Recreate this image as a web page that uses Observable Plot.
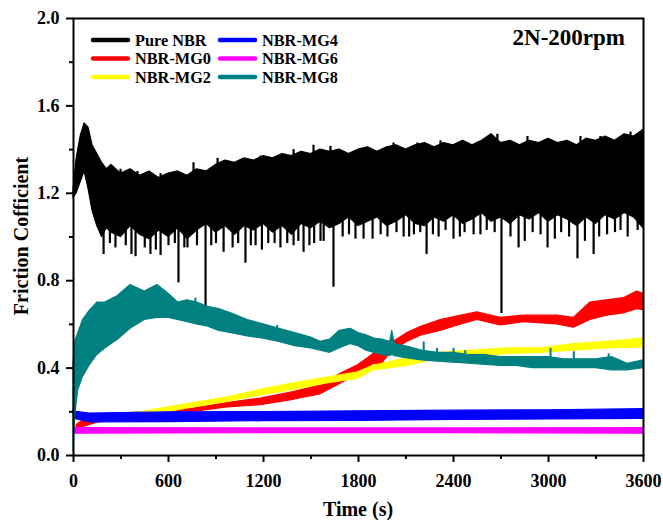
<!DOCTYPE html>
<html><head><meta charset="utf-8">
<script src="https://cdn.jsdelivr.net/npm/d3@7"></script>
<script src="https://cdn.jsdelivr.net/npm/@observablehq/plot@0.6"></script>
<style>
body{margin:0;background:#fff;}
#wrap{position:relative;width:663px;height:520px;}
#wrap svg{position:absolute;left:0;top:0;}
</style></head><body><div id="wrap"></div>
<script>
const seriesNames = ["Pure NBR","NBR-MG0","NBR-MG2","NBR-MG4","NBR-MG6","NBR-MG8"];
const seriesColors = ["#000000","#ff0000","#ffff00","#0000ff","#ff00ff","#008080"];
const xTicks = [0,600,1200,1800,2400,3000,3600];
const xMinor = [300,900,1500,2100,2700,3300];
const yTicks = [0,0.4,0.8,1.2,1.6,2.0];
const yMinor = [0.2,0.6,1.0,1.4,1.8];
const chartTitle = "2N-200rpm";
const xTitle = "Time (s)";
const yTitle = "Friction Cofficient";

// Pure NBR: upper / lower envelope of the oscillating trace
const pureT = [0,20,45,70,95,120,150,180,210,240,300,360,420,480,540,600,660,720,780,840,900,960,1020,1080,1140,1200,1260,1320,1380,1440,1500,1560,1620,1680,1740,1800,1860,1920,1980,2040,2100,2160,2220,2280,2340,2400,2460,2520,2580,2640,2700,2760,2820,2880,2940,3000,3060,3120,3180,3240,3300,3360,3420,3480,3540,3600];
const pureHi = [1.22,1.36,1.46,1.52,1.50,1.42,1.38,1.34,1.31,1.33,1.29,1.31,1.28,1.30,1.27,1.29,1.30,1.28,1.31,1.30,1.33,1.35,1.34,1.36,1.35,1.37,1.36,1.38,1.37,1.39,1.38,1.40,1.39,1.40,1.38,1.40,1.41,1.39,1.41,1.42,1.40,1.42,1.43,1.41,1.43,1.42,1.44,1.42,1.44,1.47,1.43,1.44,1.42,1.44,1.43,1.45,1.43,1.44,1.42,1.45,1.44,1.46,1.44,1.47,1.46,1.49];
const pureLo = [1.18,1.20,1.25,1.30,1.22,1.12,1.05,1.00,1.04,1.02,1.00,1.05,1.01,0.99,1.03,1.00,1.04,0.99,1.03,1.06,1.02,1.05,1.01,1.05,1.03,1.06,1.02,1.05,1.01,1.06,1.04,1.07,1.04,1.06,1.09,1.05,1.07,1.09,1.05,1.07,1.10,1.06,1.05,1.09,1.07,1.10,1.06,1.08,1.11,1.07,1.09,1.06,1.10,1.08,1.11,1.07,1.10,1.08,1.05,1.09,1.06,1.10,1.08,1.11,1.09,1.04];
// downward spikes of Pure NBR
const spikeT = [190,230,265,330,366,392,450,486,520,550,600,640,663,700,720,780,834,870,900,948,1005,1040,1086,1120,1150,1190,1230,1270,1307,1350,1390,1420,1453,1490,1520,1560,1580,1642,1700,1740,1781,1832,1889,1940,1983,2040,2085,2120,2150,2190,2230,2270,2306,2350,2400,2440,2470,2527,2570,2610,2660,2703,2760,2811,2850,2900,2950,2994,3040,3080,3130,3183,3230,3285,3320,3370,3420,3455,3500,3563];
const spikeLow = [0.92,0.97,0.95,0.96,0.92,0.91,0.95,0.92,0.94,0.915,0.96,0.97,0.79,0.95,0.95,0.96,0.68,0.96,0.97,0.93,0.95,0.97,0.88,0.96,0.96,0.94,0.97,0.97,0.95,0.97,0.96,0.98,0.93,0.96,0.97,0.98,0.98,0.77,1.00,1.01,0.99,0.99,0.99,1.01,1.00,1.02,1.00,1.00,1.01,1.02,0.92,1.01,1.00,1.03,0.99,1.00,1.02,1.01,1.01,1.03,1.02,0.65,1.00,0.95,0.98,1.02,1.01,0.95,0.99,1.02,1.00,0.90,0.98,0.92,1.00,1.01,1.02,1.03,1.00,1.03];
// upward spikes of Pure NBR
const peakT = [297,404,550,758,910,1181,1390,1516,1623,2021,2172,2318,2677,2867,3202,3328,3518,3594];
const peakHigh = [1.31,1.30,1.29,1.34,1.36,1.37,1.40,1.42,1.415,1.43,1.43,1.44,1.47,1.46,1.46,1.46,1.48,1.49];

// NBR-MG0
const mg0T  = [20,60,150,300,450,600,760,970,1180,1390,1560,1690,1790,1850,1895,1940,2000,2107,2200,2318,2450,2550,2697,2842,3055,3160,3265,3370,3475,3560,3600];
const mg0Lo = [0.10,0.13,0.15,0.17,0.18,0.19,0.20,0.22,0.23,0.255,0.28,0.33,0.37,0.39,0.42,0.41,0.47,0.52,0.55,0.57,0.60,0.62,0.595,0.61,0.60,0.585,0.62,0.64,0.65,0.67,0.665];
const mg0Hi = [0.14,0.16,0.175,0.19,0.20,0.21,0.215,0.24,0.26,0.29,0.32,0.375,0.41,0.44,0.465,0.47,0.51,0.56,0.59,0.62,0.64,0.655,0.63,0.64,0.64,0.63,0.70,0.71,0.72,0.75,0.74];

// NBR-MG2
const mg2T  = [0,100,300,442,600,758,972,1181,1390,1602,1793,1895,2107,2318,2526,2740,2950,3160,3370,3600];
const mg2Lo = [0.16,0.165,0.175,0.185,0.20,0.22,0.245,0.275,0.30,0.33,0.35,0.39,0.41,0.445,0.45,0.465,0.47,0.48,0.49,0.495];
const mg2Hi = [0.18,0.18,0.19,0.20,0.22,0.24,0.265,0.30,0.33,0.357,0.38,0.41,0.445,0.47,0.48,0.49,0.49,0.51,0.52,0.535];

// NBR-MG4
const mg4T  = [0,20,100,600,1200,1800,2400,3000,3600];
const mg4Lo = [0.18,0.165,0.152,0.153,0.157,0.158,0.163,0.165,0.168];
const mg4Hi = [0.21,0.20,0.192,0.197,0.199,0.202,0.205,0.207,0.212];

// NBR-MG6
const mg6T  = [8,1200,2400,3600];
const mg6Lo = [0.10,0.102,0.102,0.10];
const mg6Hi = [0.125,0.124,0.124,0.125];

// NBR-MG8
const mg8T  = [0,10,30,60,100,150,200,280,360,450,530,600,660,720,780,850,920,1000,1100,1200,1300,1400,1500,1560,1620,1680,1750,1800,1850,1900,1950,2000,2013,2030,2100,2200,2300,2400,2500,2600,2700,2800,2900,3000,3100,3200,3300,3400,3500,3600];
const mg8Hi = [0.42,0.52,0.56,0.62,0.66,0.70,0.70,0.73,0.78,0.75,0.78,0.74,0.70,0.71,0.70,0.68,0.67,0.65,0.62,0.60,0.58,0.56,0.54,0.52,0.53,0.57,0.58,0.56,0.55,0.535,0.53,0.52,0.57,0.51,0.50,0.48,0.47,0.47,0.46,0.46,0.45,0.45,0.45,0.45,0.44,0.44,0.44,0.45,0.42,0.435];
const mg8Lo = [0.02,0.18,0.30,0.36,0.41,0.46,0.49,0.53,0.58,0.62,0.63,0.63,0.62,0.61,0.60,0.59,0.57,0.56,0.545,0.535,0.52,0.50,0.49,0.48,0.47,0.49,0.51,0.50,0.48,0.47,0.46,0.455,0.46,0.455,0.445,0.435,0.43,0.425,0.42,0.415,0.41,0.41,0.40,0.40,0.40,0.40,0.40,0.39,0.39,0.40];
// upward spikes of NBR-MG8
const mg8PeakT = [770,956,1286,2212,2296,2400,2474,3013,3160,3380];
const mg8PeakHigh = [0.72,0.655,0.595,0.52,0.49,0.49,0.48,0.49,0.475,0.465];

const band = (T, lo, hi) => T.map((t, i) => ({t, lo: lo[i], hi: hi[i]}));
const at = (T, V, t) => {
  const i = d3.bisectLeft(T, t);
  if (i <= 0) return V[0];
  if (i >= T.length) return V[V.length - 1];
  const a = T[i-1], b = T[i];
  return V[i-1] + (V[i]-V[i-1]) * (t-a)/(b-a);
};
const series = [
  {data: band(pureT, pureLo, pureHi), color: seriesColors[0]},
  {data: band(mg0T, mg0Lo, mg0Hi), color: seriesColors[1]},
  {data: band(mg2T, mg2Lo, mg2Hi), color: seriesColors[2]},
  {data: band(mg4T, mg4Lo, mg4Hi), color: seriesColors[3]},
  {data: band(mg6T, mg6Lo, mg6Hi), color: seriesColors[4]},
  {data: band(mg8T, mg8Lo, mg8Hi), color: seriesColors[5]}
];
const pureSpikes = spikeT.map((t, i) => ({t, a: spikeLow[i], b: at(pureT, pureLo, t) + 0.03}))
  .concat(peakT.map((t, i) => ({t, a: at(pureT, pureHi, t) - 0.03, b: peakHigh[i]})));
const mg8Spikes = mg8PeakT.map((t, i) => ({t, a: at(mg8T, mg8Hi, t) - 0.02, b: mg8PeakHigh[i]}));

const marks = [];
series.forEach((s, k) => {
  marks.push(Plot.areaY(s.data, {x: "t", y1: "lo", y2: "hi", fill: s.color, stroke: s.color, strokeWidth: 1.2}));
  if (k === 0) marks.push(Plot.ruleX(pureSpikes, {x: "t", y1: "a", y2: "b", stroke: s.color, strokeWidth: 2.2}));
  if (k === 5) marks.push(Plot.ruleX(mg8Spikes, {x: "t", y1: "a", y2: "b", stroke: s.color, strokeWidth: 2}));
});
marks.push(
  Plot.axisX({ticks: xTicks, tickSize: 7, tickPadding: 12, tickFormat: d => String(d), strokeWidth: 2}),
  Plot.axisX({ticks: xMinor, tickSize: 4, tickFormat: () => "", strokeWidth: 2}),
  Plot.axisY({ticks: yTicks, tickSize: 7, tickPadding: 7, tickFormat: d3.format(".1f"), strokeWidth: 2}),
  Plot.axisY({ticks: yMinor, tickSize: 4, tickFormat: () => "", strokeWidth: 2}),
  Plot.frame({stroke: "#000", strokeWidth: 2})
);

const chart = Plot.plot({
  width: 663, height: 520,
  marginLeft: 73, marginRight: 20, marginTop: 18, marginBottom: 65,
  x: {domain: [0, 3600], label: null},
  y: {domain: [0, 2.0], label: null},
  style: {fontFamily: "'Liberation Serif', 'Times New Roman', serif", fontSize: "18px", fontWeight: "bold", color: "#000", background: "transparent"},
  marks
});
const wrap = document.getElementById("wrap");
wrap.appendChild(chart);

// overlay: titles and legend
const ns = "http://www.w3.org/2000/svg";
const ov = document.createElementNS(ns, "svg");
ov.setAttribute("width", 663); ov.setAttribute("height", 520);
ov.style.fontFamily = "'Liberation Serif', 'Times New Roman', serif";
ov.style.fontWeight = "bold";
ov.style.pointerEvents = "none";
function txt(s, x, y, size, anchor, rot) {
  const e = document.createElementNS(ns, "text");
  e.textContent = s;
  e.setAttribute("x", x); e.setAttribute("y", y);
  e.setAttribute("font-size", size);
  e.setAttribute("text-anchor", anchor);
  if (rot) e.setAttribute("transform", `rotate(${rot} ${x} ${y})`);
  ov.appendChild(e);
}
txt(chartTitle, 625, 45, 23, "end");
txt(xTitle, 358, 516, 20, "middle");
txt(yTitle, 28, 236, 20, "middle", -90);
const colX = [91, 218], rowY = [40, 58.5, 77];
seriesNames.forEach((name, i) => {
  const c = Math.floor(i / 3), r = i % 3;
  const l = document.createElementNS(ns, "line");
  l.setAttribute("x1", colX[c] + 2); l.setAttribute("x2", colX[c] + 37);
  l.setAttribute("y1", rowY[r]); l.setAttribute("y2", rowY[r]);
  l.setAttribute("stroke", seriesColors[i]); l.setAttribute("stroke-width", 4.5);
  l.setAttribute("stroke-linecap", "round");
  ov.appendChild(l);
  txt(name, colX[c] + 44, rowY[r] + 5.5, 16.3, "start");
});
wrap.appendChild(ov);
</script></body></html>
